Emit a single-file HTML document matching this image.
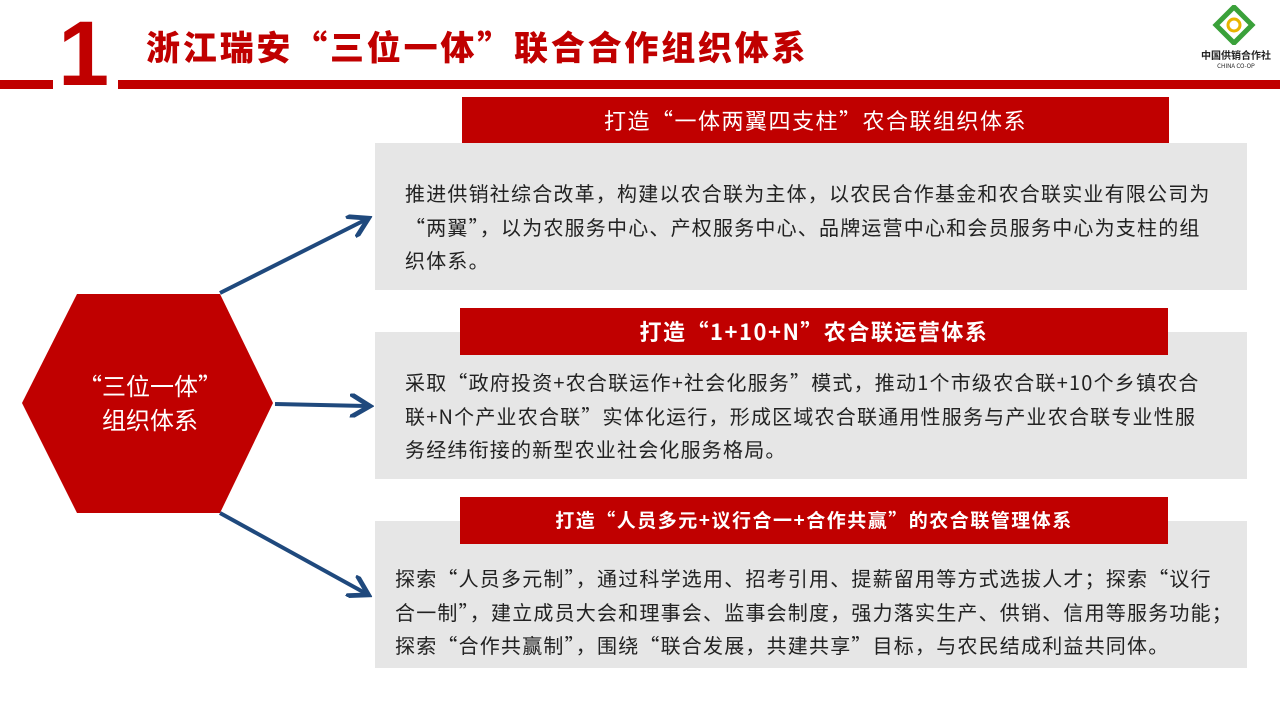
<!DOCTYPE html>
<html><head><meta charset="utf-8"><style>
body{margin:0;width:1280px;height:720px;background:#fff;position:relative;overflow:hidden;font-family:"Noto Sans CJK SC","Liberation Sans",sans-serif}
.a{position:absolute}
.bar{position:absolute;background:#c00000;color:#fff;font-size:22px;letter-spacing:1.5px;text-align:center;line-height:46px;white-space:nowrap}
.box{position:absolute;background:#e6e6e6;color:#222;font-size:20px;letter-spacing:1.2px;line-height:33.5px;box-sizing:border-box;white-space:nowrap}
</style></head><body>
<div class="a" style="left:0;top:80px;width:53px;height:9px;background:#c00000"></div>
<div class="a" style="left:118px;top:80px;width:1162px;height:9px;background:#c00000"></div>
<div class="a" style="left:58px;top:8px;font-size:92px;font-weight:bold;color:#c00000;line-height:92px;font-family:'Liberation Sans',sans-serif">1</div>
<div class="a" style="left:146px;top:22px;font-size:34px;font-weight:900;color:#c00000;line-height:48px;letter-spacing:2.8px;white-space:nowrap">浙江瑞安“三位一体”联合合作组织体系</div>
<svg class="a" style="left:1212px;top:5px" width="44" height="40" viewBox="0 0 44 40">
<polygon points="22,2 40,20 22,38 4,20" fill="none" stroke="#3aa13a" stroke-width="5"/>
<circle cx="22" cy="20" r="6" fill="none" stroke="#e8b400" stroke-width="3"/>
</svg>
<div class="a" style="left:1196px;top:47px;width:80px;text-align:center;font-size:10px;color:#222;font-weight:bold">中国供销合作社</div>
<div class="a" style="left:1196px;top:61px;width:80px;text-align:center;font-size:6px;color:#222">CHINA CO-OP</div>

<svg class="a" style="left:0;top:0" width="1280" height="720">
<polygon points="22,403 77,294 220,294 273,403 220,513 77,513" fill="#c00000"/>
<defs><marker id="m" markerWidth="6" markerHeight="6" refX="4" refY="3" orient="auto" markerUnits="strokeWidth"><path d="M0,0 L5,3 L0,6" fill="none" stroke="#1f497d" stroke-width="1.2"/></marker></defs>
<g stroke="#1f497d" stroke-width="4" fill="none" marker-end="url(#m)">
<line x1="220" y1="293" x2="365" y2="220"/>
<line x1="275" y1="404" x2="366" y2="406"/>
<line x1="220" y1="513" x2="365" y2="593"/>
</g>
</svg>
<div class="a" style="left:55px;top:368px;width:190px;text-align:center;color:#fff;font-size:24px;line-height:34px">“三位一体”<br>组织体系</div>

<div class="box" style="left:375px;top:143px;width:872px;height:147px;padding:33px 0 0 30px">推进供销社综合改革，构建以农合联为主体，以农民合作基金和农合联实业有限公司为<br>“两翼”，以为农服务中心、产权服务中心、品牌运营中心和会员服务中心为支柱的组<br>织体系。</div>
<div class="bar" style="left:462px;top:97px;width:707px;height:46px">打造“一体两翼四支柱”农合联组织体系</div>

<div class="box" style="left:375px;top:332px;width:872px;height:147px;padding:33px 0 0 30px">采取“政府投资+农合联运作+社会化服务”模式，推动1个市级农合联+10个乡镇农合<br>联+N个产业农合联”实体化运行，形成区域农合联通用性服务与产业农合联专业性服<br>务经纬衔接的新型农业社会化服务格局。</div>
<div class="bar" style="left:460px;top:308px;width:708px;height:47px;font-weight:bold">打造“1+10+N”农合联运营体系</div>

<div class="box" style="left:375px;top:521px;width:872px;height:147px;padding:40px 0 0 20px">探索“人员多元制”，通过科学选用、招考引用、提薪留用等方式选拔人才；探索“议行<br>合一制”，建立成员大会和理事会、监事会制度，强力落实生产、供销、信用等服务功能；<br>探索“合作共赢制”，围绕“联合发展，共建共享”目标，与农民结成利益共同体。</div>
<div class="bar" style="left:460px;top:497px;width:708px;height:47px;font-size:19px;font-weight:bold">打造“人员多元+议行合一+合作共赢”的农合联管理体系</div>
</body></html>
